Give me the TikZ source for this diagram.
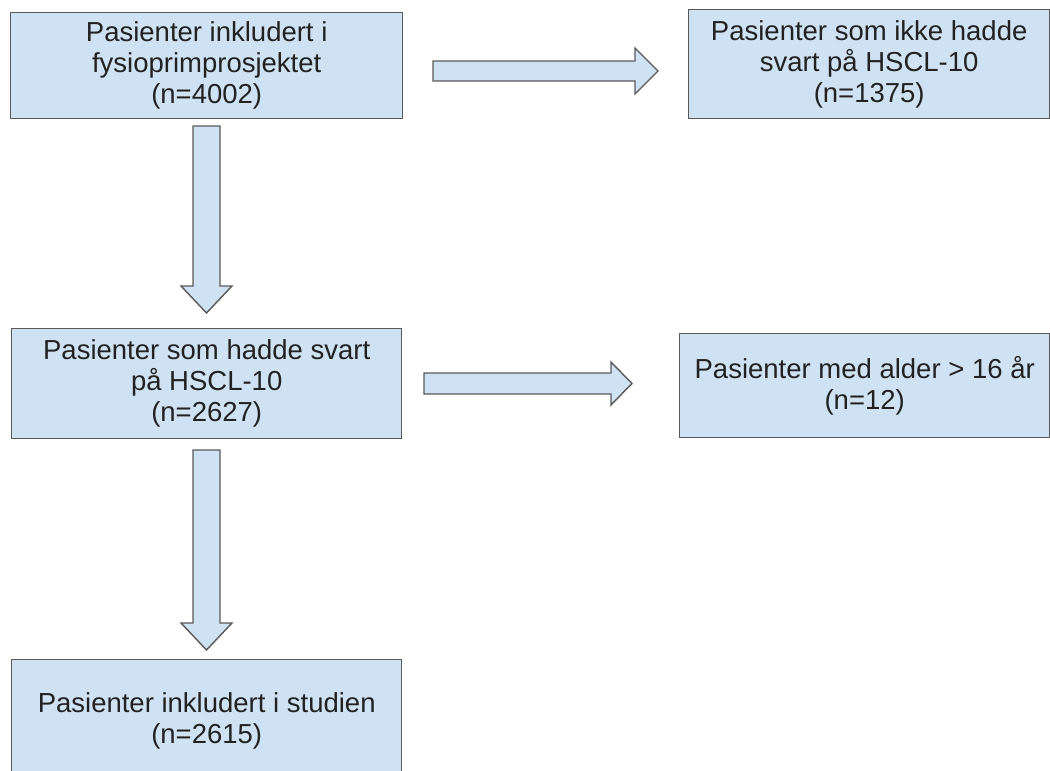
\documentclass[tikz,border=0pt]{standalone}
\usepackage{fontspec}
\setmainfont{Liberation Sans}
\definecolor{boxfill}{HTML}{CFE2F3}
\definecolor{boxline}{HTML}{595959}
\definecolor{txt}{HTML}{222222}
\begin{document}
\begin{tikzpicture}[x=1pt,y=1pt,
  box/.style={draw=boxline, fill=boxfill, line width=1.4pt, rectangle, anchor=north west,
    align=center, text=txt, inner sep=0pt, font=\fontsize{27.5}{31}\selectfont},
  blockarrow/.style={draw=boxline, fill=boxfill, line width=1.4pt, line join=miter}]
\useasboundingbox (0,0) rectangle (1050,-771);

\node[box, minimum width=392pt, minimum height=106pt] (b1) at (10,-12)
  {Pasienter inkludert i\\fysioprimprosjektet\\(n=4002)};
\node[box, minimum width=361pt, minimum height=109pt] (b2) at (688,-9)
  {Pasienter som ikke hadde\\svart på HSCL-10\\(n=1375)};
\node[box, minimum width=390pt, minimum height=110pt] (b3) at (11,-328)
  {Pasienter som hadde svart\\på HSCL-10\\(n=2627)};
\node[box, minimum width=370pt, minimum height=104pt] (b4) at (679,-333)
  {Pasienter med alder > 16 år\\(n=12)};
\node[box, minimum width=390pt, minimum height=122pt] (b5) at (11,-659)
  {Pasienter inkludert i studien\\(n=2615)};

% block arrow b1 -> b2
\draw[blockarrow] (433,-61) -- (635,-61) -- (635,-48) -- (658,-71) -- (635,-94) -- (635,-81) -- (433,-81) -- cycle;
% block arrow b3 -> b4
\draw[blockarrow] (424,-373) -- (611,-373) -- (611,-362) -- (632,-383.5) -- (611,-405) -- (611,-394) -- (424,-394) -- cycle;
% block arrow b1 -> b3
\draw[blockarrow] (193,-126) -- (220,-126) -- (220,-286) -- (232,-286) -- (206.5,-313) -- (181,-286) -- (193,-286) -- cycle;
% block arrow b3 -> b5
\draw[blockarrow] (193,-450) -- (220,-450) -- (220,-623) -- (232,-623) -- (206.5,-650) -- (181,-623) -- (193,-623) -- cycle;
\end{tikzpicture}
\end{document}
